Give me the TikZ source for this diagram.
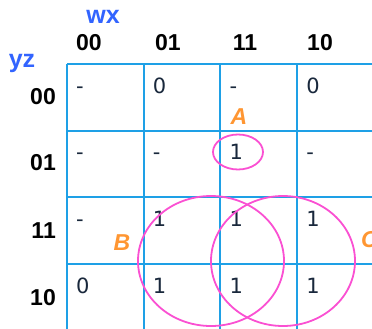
\documentclass[tikz,border=0pt]{standalone}
\usepackage{fontspec}
\setmainfont{Liberation Sans}
\newfontfamily\cellfont{DejaVu Sans}
\usetikzlibrary{shapes.geometric}
\definecolor{gridC}{RGB}{30, 160, 230}
\definecolor{loopC}{RGB}{250, 80, 210}
\definecolor{tagC}{RGB}{255, 150, 50}
\definecolor{varC}{RGB}{50, 100, 255}
\definecolor{valC}{RGB}{25, 40, 60}

\begin{document}
\begin{tikzpicture}[
    x=1pt, y=-1pt,
    gridline/.style={draw=gridC, line width=1.1pt},
    head/.style={inner sep=0, font=\fontsize{23}{26}\selectfont\bfseries},
    var/.style={inner sep=0, text=varC, font=\fontsize{25}{28}\selectfont\bfseries},
    val/.style={inner sep=0, anchor=base west, text=valC,
                font=\cellfont\fontsize{21}{24}\selectfont},
    group/.style={draw=loopC, line width=1.8pt, inner sep=0},
    tag/.style={inner sep=0, text=tagC, font=\fontsize{23}{26}\selectfont\bfseries\itshape}
  ]
    \useasboundingbox (0,0) rectangle (372,329);

    % Grid
    \foreach \x in {67,144,220,297,374}
      \draw[gridline] (\x,64) -- (\x,340);
    \foreach \y in {64,131,197,264,331}
      \draw[gridline] (67,\y) -- (380,\y);

    % Variables
    \node[var] (wx) at (103,17) {wx};
    \node[var] (yz) at (22,63) {yz};

    % Column and row headings
    \node[head] (c00) at (89,43) {00};
    \node[head] (c01) at (168,43) {01};
    \node[head] (c11) at (245,43) {11};
    \node[head] (c10) at (320,43) {10};
    \node[head, anchor=east] (r00) at (56,97) {00};
    \node[head, anchor=east] (r01) at (56,163) {01};
    \node[head, anchor=east] (r11) at (56,231) {11};
    \node[head, anchor=east] (r10) at (56,298) {10};

    % Cell values
    \foreach \vals [count=\r] in {{-,0,-,0},{-,-,1,-},{-,1,1,1},{0,1,1,1}}
      \foreach \v [count=\c] in \vals
        \node[val] (v\r\c) at ({67+76.7*(\c-1)+9}, {64+66.7*(\r-1)+29}) {\v};

    % Groups
    \node[group, ellipse, minimum width=50, minimum height=35] (loopA) at (238,152) {};
    \node[group, ellipse, minimum width=146, minimum height=130] (loopB) at (211,261) {};
    \node[group, ellipse, minimum width=144, minimum height=130] (loopC) at (283,261) {};

    % Group labels
    \node[tag] (tagA) at (239,117) {A};
    \node[tag] (tagB) at (122,243) {B};
    \node[tag, anchor=west] (tagC) at (361,240) {C};
  \end{tikzpicture}
\end{document}
